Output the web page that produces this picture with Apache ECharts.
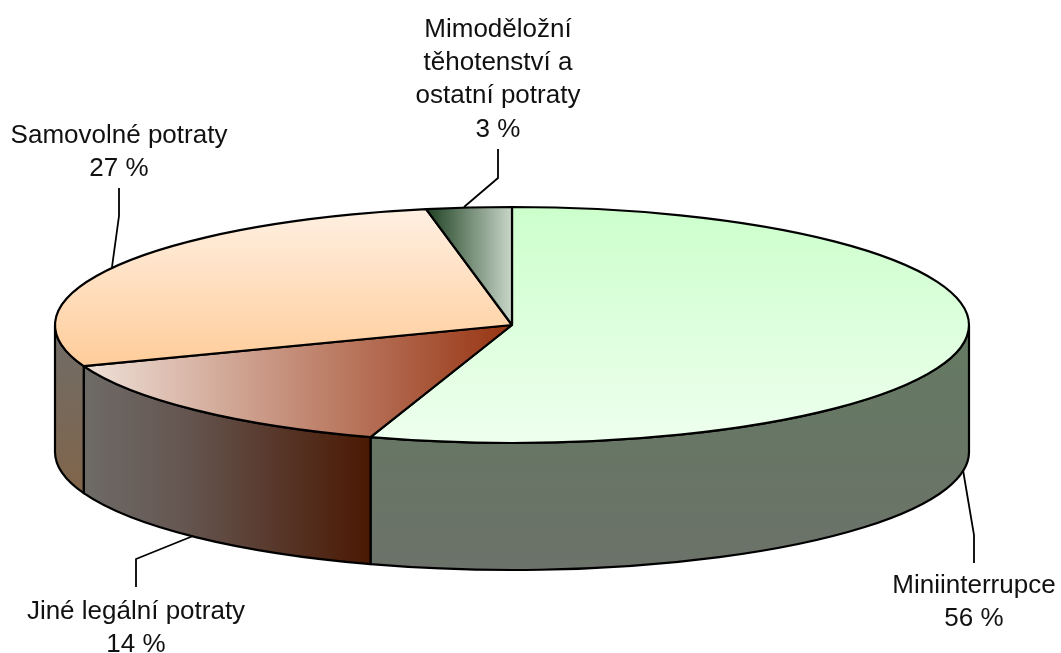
<!DOCTYPE html>
<html><head><meta charset="utf-8">
<style>html,body{margin:0;padding:0;background:#fff}#c{width:1061px;height:653px}</style>
<script src="https://cdn.jsdelivr.net/npm/echarts@6/dist/echarts.min.js"></script>
</head><body><div id="c"></div>
<script>
// Data
const categories = ["Miniinterrupce", "Jiné legální potraty", "Samovolné potraty", "Mimoděložní\ntěhotenství a\nostatní potraty"];
const percents = [56, 14, 27, 3];

// Geometry and styling of the tilted disc
const CX = 512, CY = 325, RX = 457, RY = 118, DEPTH = 127;
const FRONT_SKEW = 3.7; // the reference's projection squeezes the near side slightly
const LINE = 2.2;
const grad = (x2, y2, a, b) => ({type:'linear', x:0, y:0, x2, y2, colorStops:[{offset:0,color:a},{offset:1,color:b}]});
const stops = (x2, y2, list) => ({type:'linear', x:0, y:0, x2, y2, colorStops:list.map(([offset,color]) => ({offset,color}))});
const topFill = [
  grad(0,1,'#ccffcc','#eeffee'),
  grad(1,0,'#efe2da','#973412'),
  grad(0,1,'#fff0e2','#ffcc99'),
  grad(1,0,'#1c3f20','#cbd8cb')
];
const wallFill = [
  grad(0,1,'#647a62','#6c7269'),
  stops(1,0,[[0,'#6e6b67'],[0.35,'#655651'],[1,'#4a1802']]),
  grad(0,1,'#6f6c68','#81654a'),
  '#888'
];
const labelBox = [
  {x:974, y:602, leader:[[963,470],[974,535],[974,563]]},
  {x:136, y:628, leader:[[193,536],[136,559],[136,587]]},
  {x:119, y:152, leader:[[112,267],[119,216],[119,188]]},
  {x:498, y:79.5, leader:[[464,207],[498,178],[498,149]]}
];

const rad = d => d * Math.PI / 180;
const warp = t => t - FRONT_SKEW * Math.sin(rad(t / 2)) ** 2;
const pt = (t, dy) => [CX + RX * Math.sin(rad(t)), CY - RY * Math.cos(rad(t)) + (dy || 0)];
const arc = (to, large, sweep) => `A${RX} ${RY} 0 ${large} ${sweep} ${to[0]} ${to[1]}`;

const total = percents.reduce((a, b) => a + b, 0);
const ends = []; percents.reduce((s, v, i) => (ends[i] = s + v, ends[i]), 0);

function renderItem(params, api) {
  const i = params.dataIndex;
  const value = api.value(0);
  const end = ends[i];
  const t0 = warp((end - value) / total * 360), t1 = warp(end / total * 360);
  const children = [];
  // front wall: the part of the slice on the near half of the disc
  const w0 = Math.max(t0, 90), w1 = Math.min(t1, 270);
  if (w1 > w0) {
    const a = pt(w0), b = pt(w1), c = pt(w1, DEPTH), d = pt(w0, DEPTH);
    children.push({type:'path', shape:{pathData:
      `M${a[0]} ${a[1]}${arc(b, 0, 1)}L${c[0]} ${c[1]}${arc(d, 0, 0)}Z`},
      style:{fill:wallFill[i], stroke:'#000', lineWidth:LINE, lineJoin:'round'}});
  }
  // top face
  const s = pt(t0), e = pt(t1);
  children.push({type:'path', shape:{pathData:
    `M${CX} ${CY}L${s[0]} ${s[1]}${arc(e, t1 - t0 > 180 ? 1 : 0, 1)}Z`},
    style:{fill:topFill[i], stroke:'#000', lineWidth:LINE, lineJoin:'round'}});
  // leader and label
  const box = labelBox[i];
  children.push({type:'polyline', shape:{points:box.leader},
    style:{fill:null, stroke:'#000', lineWidth:1.8}});
  children.push({type:'text', x:box.x, y:box.y, style:{
    text: categories[i] + '\n' + value + ' %', align:'center', verticalAlign:'middle',
    font:'26px "Liberation Sans", Arial, sans-serif', lineHeight:33.3, fill:'#111'}});
  return {type:'group', children};
}

const chart = echarts.init(document.getElementById('c'), null, {renderer:'canvas'});
chart.setOption({
  animation:false,
  backgroundColor:'#fff',
  series:[{
    type:'custom', coordinateSystem:'none', renderItem, silent:true,
    data: percents.map((v, i) => ({name:categories[i], value:[v]}))
  }]
});
</script></body></html>
